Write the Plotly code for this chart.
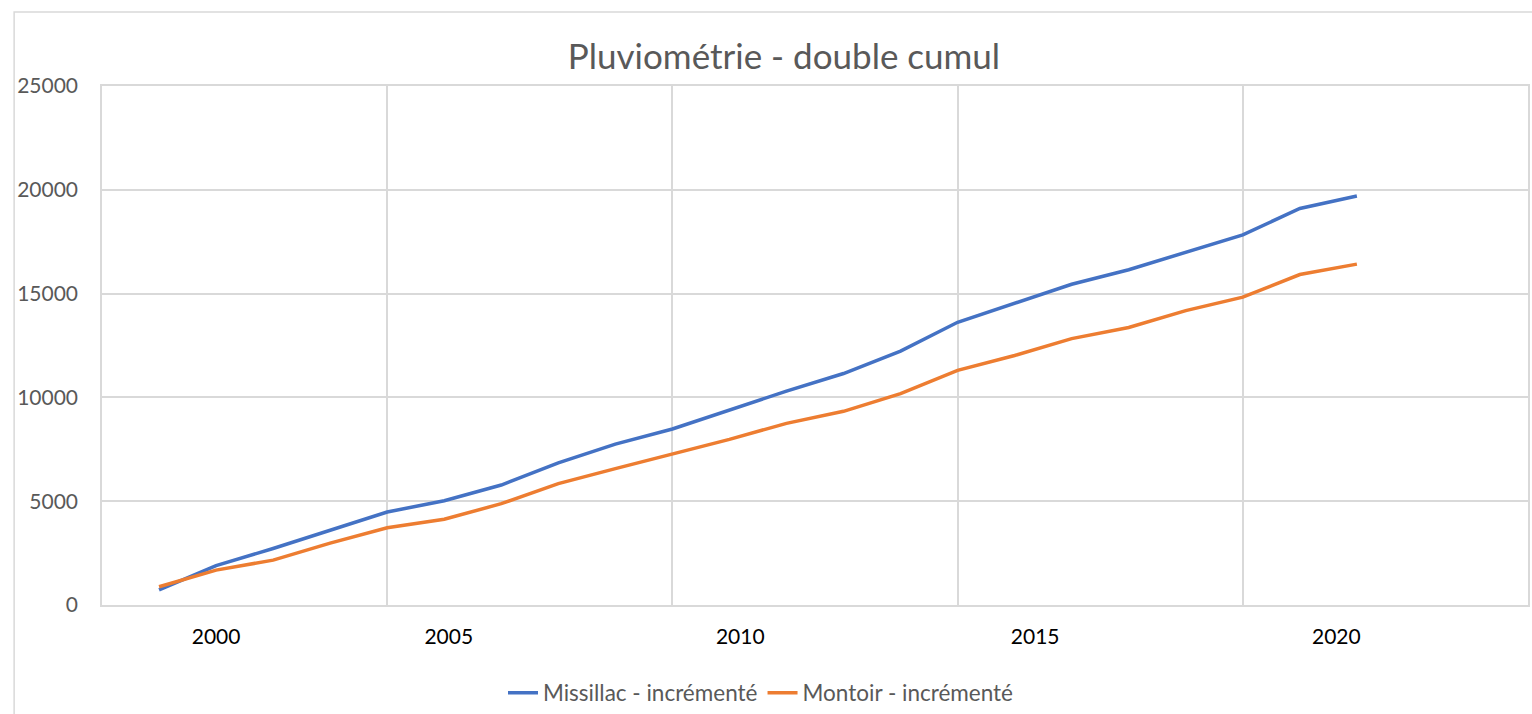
import plotly.graph_objects as go

# ---- data ----
years = list(range(1999, 2021))
missillac = [730, 1900, 2720, 3600, 4480, 5020, 5780, 6850, 7750, 8480, 9400,
             10300, 11150, 12230, 13620, 14550, 15450, 16150, 16980, 17830,
             19100, 19700]
montoir = [880, 1680, 2160, 2980, 3720, 4130, 4880, 5850, 6570, 7260, 7980,
           8750, 9330, 10180, 11300, 12020, 12830, 13370, 14180, 14830,
           15920, 16420]
year_labels = ["2000", "2005", "2010", "2015", "2020"]
y_ticks = [0, 5000, 10000, 15000, 20000, 25000]

# positions of the (manually placed) year labels along the axis
label_pos = [2000.0, 2004.08, 2009.19, 2014.36, 2019.64]

FONT = "Lato, 'Open Sans', sans-serif"
GRID = "#d9d9d9"
TXT = "#595959"

fig = go.Figure()
fig.add_trace(go.Scatter(x=years, y=missillac, mode="lines",
                         name="Missillac - incrémenté",
                         line=dict(color="#4472C4", width=3.5)))
fig.add_trace(go.Scatter(x=years, y=montoir, mode="lines",
                         name="Montoir - incrémenté",
                         line=dict(color="#ED7D31", width=3.5)))

fig.update_layout(
    width=1532, height=714,
    margin=dict(l=102, r=2, t=86, b=109),
    paper_bgcolor="white", plot_bgcolor="white",
    font=dict(family=FONT, color=TXT),
    title=dict(text="Pluviométrie - double cumul", x=784 / 1532, xanchor="center",
               y=1 - 57 / 714, yanchor="middle", yref="container",
               font=dict(size=35, color=TXT, family=FONT)),
    legend=dict(orientation="h", xref="container", x=761 / 1532, xanchor="center",
                yref="container", y=1 - 693 / 714, yanchor="middle",
                font=dict(size=22.5, color=TXT, family=FONT),
                itemwidth=30, tracegroupgap=0),
    showlegend=True,
)

fig.update_xaxes(
    range=[1998, 2023],
    tickmode="array", tickvals=label_pos, ticktext=year_labels,
    showgrid=False, ticks="", ticklabelstandoff=12,
    tickfont=dict(size=21, color="black", family=FONT),
    showline=True, mirror=True, linecolor=GRID, linewidth=1.5,
    minor=dict(tickmode="linear", tick0=1998, dtick=5, showgrid=True,
               gridcolor=GRID, gridwidth=1.5, ticks=""),
    zeroline=False, fixedrange=True,
)
fig.update_yaxes(
    range=[0, 25000], tickmode="array", tickvals=y_ticks,
    ticktext=[str(v) for v in y_ticks],
    showgrid=True, gridcolor=GRID, gridwidth=1.5,
    ticks="", ticklabelstandoff=18,
    tickfont=dict(size=21, color=TXT, family=FONT),
    showline=True, mirror=True, linecolor=GRID, linewidth=1.5,
    zeroline=False, fixedrange=True,
)

# outer chart border (left and top edges visible in the reference)
fig.add_shape(type="rect", xref="paper", yref="paper",
              x0=(14 - 102) / 1428, x1=1.05, y0=-0.4, y1=(605 - 12) / 519,
              line=dict(color=GRID, width=1.5), fillcolor="rgba(0,0,0,0)",
              layer="below")

fig.write_html("out.html", config=dict(displayModeBar=False),
               post_script="document.body.style.margin='0';document.body.style.overflow='hidden';")
